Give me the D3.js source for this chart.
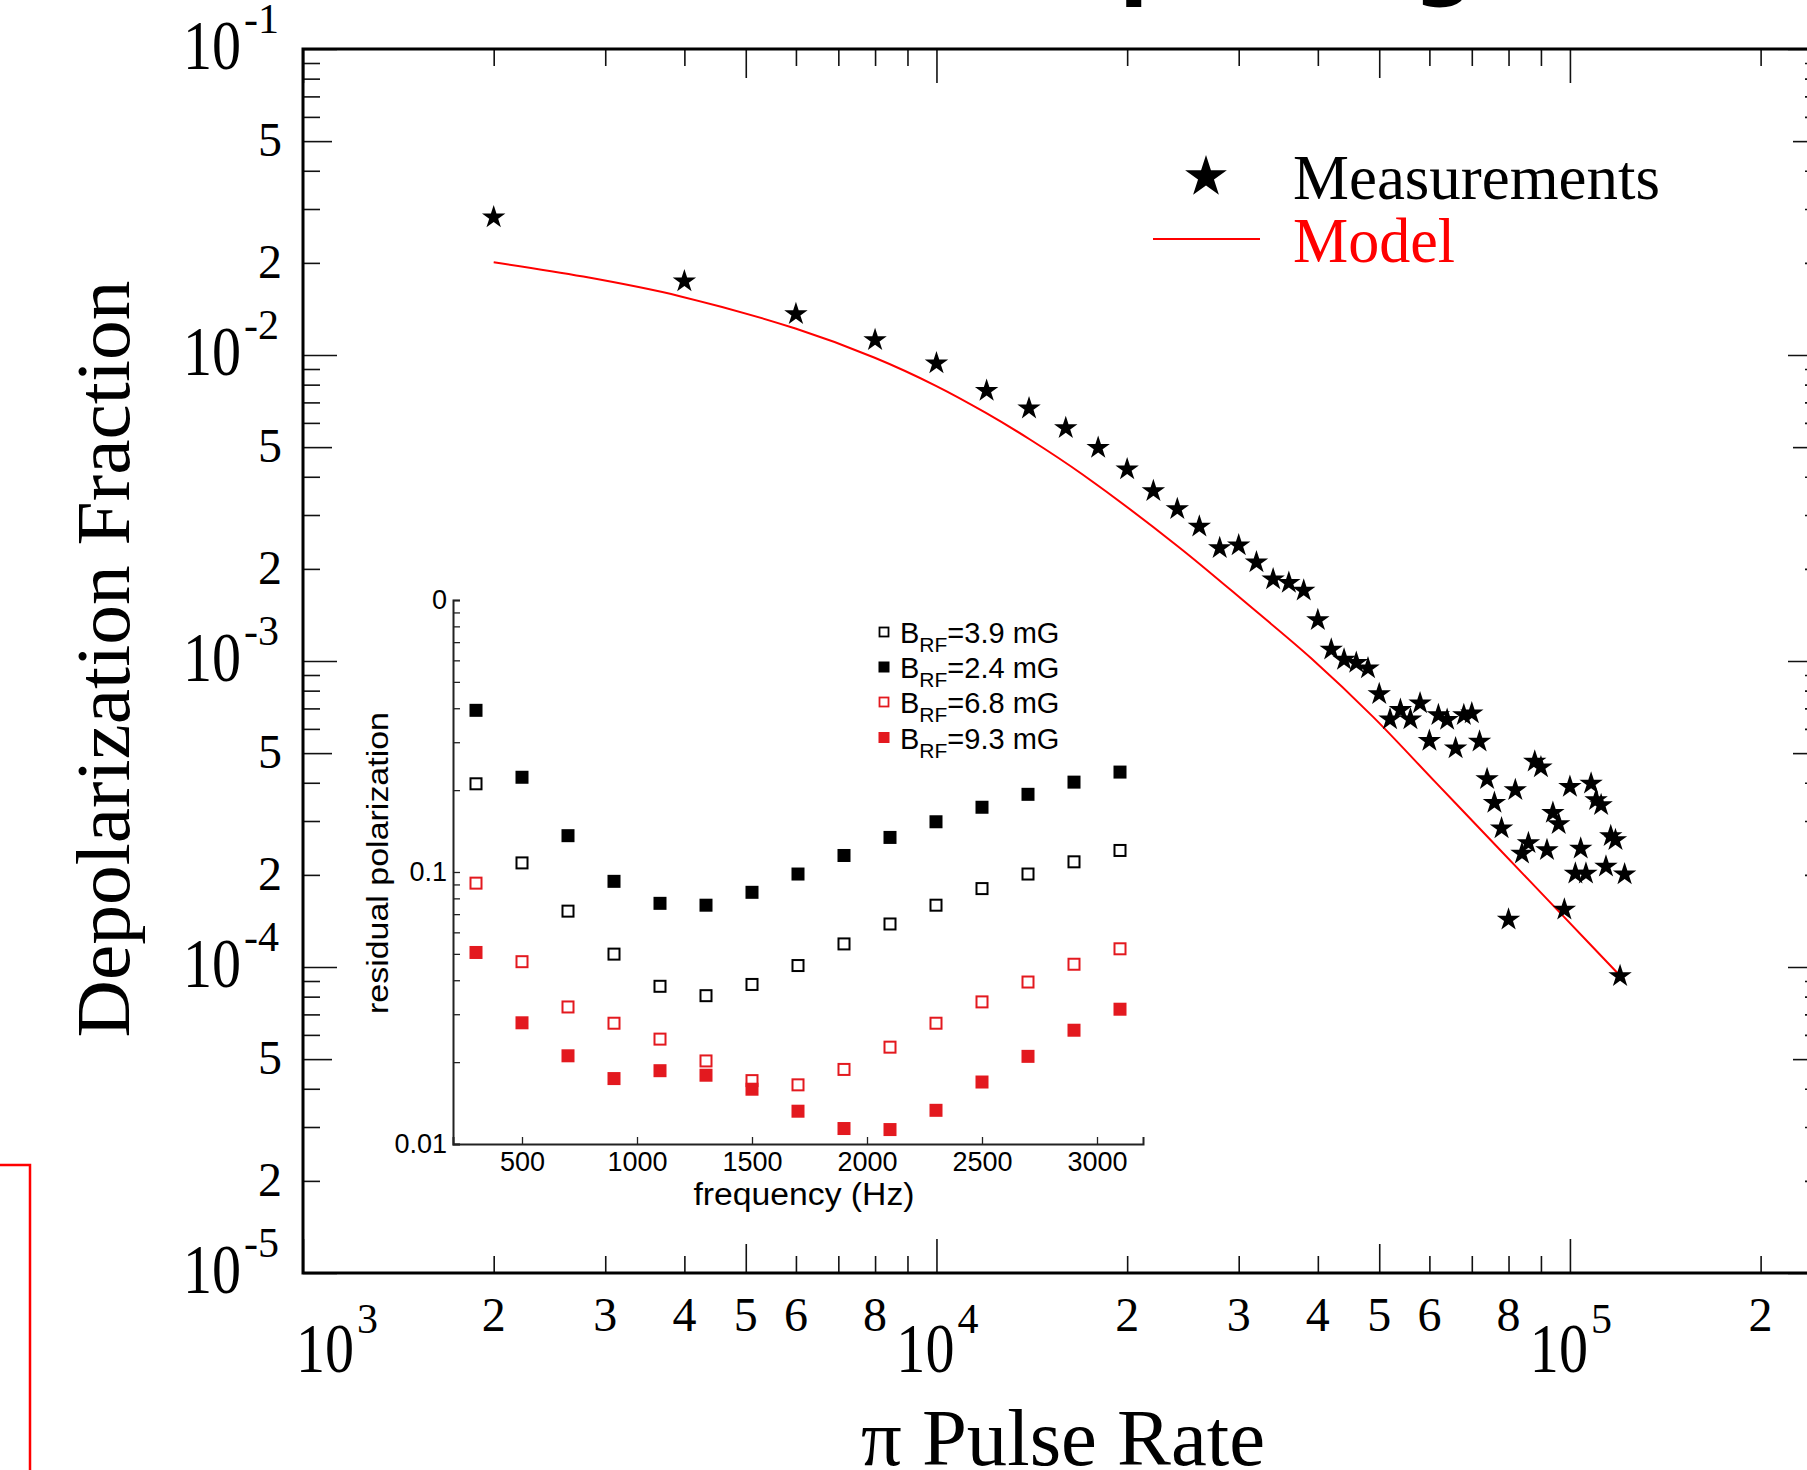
<!DOCTYPE html>
<html>
<head>
<meta charset="utf-8">
<script src="https://cdn.jsdelivr.net/npm/d3@7"></script>
<style>
html,body{margin:0;padding:0;background:#fff;}
svg{display:block;}
</style>
</head>
<body>
<svg id="chart" width="1807" height="1470"></svg>
<script>
// ---------- main chart data ----------
const pulseRate = [2000,4000,6000,8000,10000,12000,14000,16000,18000,20000,
  22000,24000,26000,28000,30000,32000,34000,36000,38000,40000,
  42000,44000,46000,48000,50000,52000,54000,56000,58000,60000,
  62000,64000,66000,68000,70000,72000,74000,76000,78000,80000,
  82000,84000,86000,88000,90000,92000,94000,96000,98000,100000,
  102000,104000,106000,108000,110000,112000,114000,116000,118000,120000,122000];
const depolarization = [0.0282,0.0174,0.0136,0.0112,0.00939,0.00764,0.00669,0.00577,0.00497,0.00423,
  0.00359,0.00314,0.00275,0.00234,0.00239,0.00210,0.00185,0.00180,0.00170,0.00136,
  0.00109,0.00101,0.000987,0.000946,0.000780,0.000645,0.000692,0.000645,0.000727,0.000549,
  0.000666,0.000642,0.000518,0.000666,0.000675,0.000545,0.000411,0.000344,0.000284,0.000143,
  0.000379,0.000235,0.000254,0.000469,0.000449,0.000241,0.000319,0.000293,0.000154,0.000388,
  0.000202,0.000244,0.000202,0.000398,0.000351,0.000338,0.000213,0.000268,0.000260,0.0000935,0.000201];

const modelRate  = [2000,2770,3920,5990,7990,9980,11970,14050,17030,24090,31140,39040,48940,61380,76930,97950,122000];
const modelDepol = [0.02009,0.01804,0.01560,0.01220,0.009797,0.007932,0.006468,0.005294,0.004061,0.002364,0.001520,0.001021,0.0006557,0.0004011,0.0002458,0.0001455,0.0000903];

const xDecades = [1e3,1e4,1e5];
const xMinorLabels = [2,3,4,5,6,8];
const yDecades = [1e-1,1e-2,1e-3,1e-4,1e-5];
const yMinorLabels = [5,2];
const legendLabels = ["Measurements","Model"];
const xTitle = "\u03c0 Pulse Rate";
const yTitle = "Depolarization Fraction";
const titleFragment = "pulsing";

// ---------- inset data ----------
const insetFreq = [300,500,700,900,1100,1300,1500,1700,1900,2100,2300,2500,2700,2900,3100];
const brf39 = [0.211,0.108,0.0718,0.0499,0.0380,0.0351,0.0386,0.0453,0.0544,0.0644,0.0755,0.0869,0.0983,0.109,0.120];
const brf24 = [0.393,0.223,0.136,0.0924,0.0767,0.0755,0.0842,0.0983,0.115,0.134,0.153,0.173,0.193,0.214,0.233];
const brf68 = [0.0910,0.0468,0.0319,0.0278,0.0243,0.0202,0.0171,0.0165,0.0188,0.0227,0.0278,0.0333,0.0394,0.0458,0.0522];
const brf93 = [0.0506,0.0279,0.0211,0.0174,0.0186,0.0179,0.0159,0.0132,0.0114,0.0113,0.0133,0.0169,0.0210,0.0262,0.0313];
const insetSeriesLabels = ["3.9","2.4","6.8","9.3"];
const insetXTicks = [500,1000,1500,2000,2500,3000];
const insetYLabels = {"0.01":"0.01","0.1":"0.1","1":"0"};
const insetXTitle = "frequency (Hz)";
const insetYTitle = "residual polarization";

// ---------- setup ----------
const svg = d3.select("#chart");
const SERIF = "'Liberation Serif','Times New Roman',serif";
const SANS = "'Liberation Sans',Arial,sans-serif";
const RED = "#ff0000";
const IRED = "#e3191f";

const x = d3.scaleLog().domain([1e3, 2.5e5]).range([303, 1822]);
const y = d3.scaleLog().domain([1e-5, 1e-1]).range([1273, 49]);

// title fragment (cut off at the top of the picture)
svg.append("text").attr("x", 1119).attr("y", -11)
  .attr("font-family", "'DejaVu Sans',sans-serif").attr("font-weight", "bold")
  .attr("font-size", 86).attr("fill", "#000").text(titleFragment);

// red bracket at bottom-left
svg.append("path").attr("d", "M0,1165H30V1470").attr("fill", "none")
  .attr("stroke", RED).attr("stroke-width", 2.5);

// ---------- ticks ----------
function logTicks(lo, hi) {
  const out = [];
  for (let e = Math.floor(Math.log10(lo)); e <= Math.ceil(Math.log10(hi)); e++) {
    for (let m = 1; m <= 9; m++) {
      const v = m * Math.pow(10, e);
      if (v >= lo * 0.999 && v <= hi * 1.001) out.push({v, m});
    }
  }
  return out;
}
const xT = logTicks(1e3, 2.5e5), yT = logTicks(1e-5, 1e-1);
const groups = [
  {f: t => t.m === 1, len: 34},
  {f: t => t.m === 5, len: 29},
  {f: t => t.m !== 1 && t.m !== 5, len: 17}
];
function drawAxis(gen, tr) {
  svg.append("g").attr("transform", tr).call(gen)
    .call(s => s.select(".domain").remove())
    .call(s => s.selectAll("text").remove())
    .call(s => s.selectAll("line").attr("stroke", "#111").attr("stroke-width", 1.6));
}
groups.forEach(gp => {
  const xv = xT.filter(gp.f).map(t => t.v);
  const yv = yT.filter(gp.f).map(t => t.v);
  drawAxis(d3.axisBottom(x).tickValues(xv).tickSize(-gp.len), "translate(0,1273)");
  drawAxis(d3.axisTop(x).tickValues(xv).tickSize(-gp.len), "translate(0,49)");
  drawAxis(d3.axisLeft(y).tickValues(yv).tickSize(-gp.len), "translate(303,0)");
  drawAxis(d3.axisRight(y).tickValues(yv).tickSize(-gp.len), "translate(1822,0)");
});

// frame
svg.append("rect").attr("x", 303).attr("y", 49).attr("width", 1822 - 303).attr("height", 1273 - 49)
  .attr("fill", "none").attr("stroke", "#000").attr("stroke-width", 3);

// ---------- tick labels ----------
const lab = svg.append("g").attr("font-family", SERIF).attr("fill", "#000");
yT.filter(t => yMinorLabels.includes(t.m)).forEach(t => {
  lab.append("text").attr("x", 282).attr("y", y(t.v) + 15).attr("text-anchor", "end")
    .attr("font-size", 48).text(t.m);
});
yDecades.forEach(v => {
  const yy = y(v) + 20;
  lab.append("text").attr("transform", `translate(241,${yy}) scale(0.83,1)`)
    .attr("text-anchor", "end").attr("font-size", 70).text("10");
  lab.append("text").attr("x", 244).attr("y", yy - 36).attr("font-size", 42)
    .text("-" + Math.round(-Math.log10(v)));
});
xT.filter(t => xMinorLabels.includes(t.m)).forEach(t => {
  lab.append("text").attr("x", x(t.v)).attr("y", 1331).attr("text-anchor", "middle")
    .attr("font-size", 48).text(t.m);
});
xDecades.forEach((v, i) => {
  const xx = x(v) + (i === 0 ? 33 : 0);
  lab.append("text").attr("transform", `translate(${xx + 18},1372) scale(0.83,1)`)
    .attr("text-anchor", "end").attr("font-size", 70).text("10");
  lab.append("text").attr("x", xx + 21).attr("y", 1333).attr("font-size", 42)
    .text(Math.round(Math.log10(v)));
});

// axis titles
svg.append("text").attr("transform", "translate(129,659) rotate(-90)")
  .attr("text-anchor", "middle").attr("font-family", SERIF).attr("font-size", 77)
  .attr("textLength", 757).attr("lengthAdjust", "spacingAndGlyphs").text(yTitle);
svg.append("text").attr("x", 1063).attr("y", 1465)
  .attr("text-anchor", "middle").attr("font-family", SERIF).attr("font-size", 80)
  .attr("textLength", 404).attr("lengthAdjust", "spacingAndGlyphs").text(xTitle);

// ---------- model & measurements ----------
const modelPts = modelRate.map((r, i) => [r, modelDepol[i]]);
svg.append("path").datum(modelPts)
  .attr("d", d3.line().x(d => x(d[0])).y(d => y(d[1])).curve(d3.curveCatmullRom.alpha(0.5)))
  .attr("fill", "none").attr("stroke", RED).attr("stroke-width", 2);

const star = d3.symbol().type(d3.symbolStar);
svg.append("g").selectAll("path").data(pulseRate.map((r, i) => [r, depolarization[i]]))
  .join("path")
  .attr("transform", d => `translate(${x(d[0])},${y(d[1])})`)
  .attr("d", star.size(170)())
  .attr("fill", "#000");

// legend
svg.append("path").attr("transform", "translate(1206,177)")
  .attr("d", d3.symbol().type(d3.symbolStar).size(540)()).attr("fill", "#000");
svg.append("text").attr("x", 1293).attr("y", 199).attr("font-family", SERIF)
  .attr("font-size", 64).attr("textLength", 367).attr("lengthAdjust", "spacingAndGlyphs")
  .text(legendLabels[0]);
svg.append("line").attr("x1", 1153).attr("x2", 1260).attr("y1", 239).attr("y2", 239)
  .attr("stroke", RED).attr("stroke-width", 2);
svg.append("text").attr("x", 1293).attr("y", 262).attr("font-family", SERIF)
  .attr("font-size", 64).attr("fill", RED).attr("textLength", 162)
  .attr("lengthAdjust", "spacingAndGlyphs").text(legendLabels[1]);

// ---------- inset ----------
const ix = d3.scaleLinear().domain([200, 3200]).range([453, 1143]);
const iy = d3.scaleLog().domain([0.01, 1]).range([1144, 600]);
const inset = svg.append("g").attr("font-family", SANS);

const iyTicks = logTicks(0.01, 1).map(t => t.v);
inset.append("g").attr("transform", "translate(453,0)")
  .call(d3.axisLeft(iy).tickValues(iyTicks).tickSize(-7).tickPadding(6)
    .tickFormat(v => insetYLabels[String(+v.toPrecision(3))] || ""))
  .call(s => s.select(".domain").attr("stroke", "#222").attr("stroke-width", 2))
  .call(s => s.selectAll("line").attr("stroke", "#222").attr("stroke-width", 1.3))
  .call(s => s.selectAll("text").attr("font-size", 27).attr("font-family", SANS).attr("fill", "#000"));
inset.append("g").attr("transform", "translate(0,1144)")
  .call(d3.axisBottom(ix).tickValues(insetXTicks).tickSize(-7).tickPadding(8).tickFormat(d3.format("d")))
  .call(s => s.select(".domain").attr("stroke", "#222").attr("stroke-width", 2))
  .call(s => s.selectAll("line").attr("stroke", "#222").attr("stroke-width", 1.3))
  .call(s => s.selectAll("text").attr("font-size", 27).attr("font-family", SANS).attr("fill", "#000"));

inset.append("text").attr("x", 804).attr("y", 1205).attr("text-anchor", "middle")
  .attr("font-size", 31).attr("textLength", 221).attr("lengthAdjust", "spacingAndGlyphs")
  .text(insetXTitle);
inset.append("text").attr("transform", "translate(388,863) rotate(-90)")
  .attr("text-anchor", "middle").attr("font-size", 30).attr("textLength", 302)
  .attr("lengthAdjust", "spacingAndGlyphs").text(insetYTitle);

const series = [
  {vals: brf39, color: "#000", filled: false},
  {vals: brf24, color: "#000", filled: true},
  {vals: brf68, color: IRED, filled: false},
  {vals: brf93, color: IRED, filled: true}
];
function drawSquare(g, cx, cy, s) {
  const sz = s.filled ? 13 : 11;
  g.append("rect").attr("x", cx - sz / 2).attr("y", cy - sz / 2).attr("width", sz).attr("height", sz)
    .attr("fill", s.filled ? s.color : "#fff").attr("stroke", s.color)
    .attr("stroke-width", s.filled ? 0 : 2);
}
series.forEach(s => {
  const g = inset.append("g");
  insetFreq.forEach((f, i) => drawSquare(g, ix(f), iy(s.vals[i]), s));
});

// inset legend
const legRowY = [632, 667, 702, 737.5];
series.forEach((s, i) => {
  const sz = s.filled ? 11 : 9;
  inset.append("rect").attr("x", 884 - sz / 2).attr("y", legRowY[i] - sz / 2)
    .attr("width", sz).attr("height", sz)
    .attr("fill", s.filled ? s.color : "#fff").attr("stroke", s.color)
    .attr("stroke-width", s.filled ? 0 : 1.8);
  const t = inset.append("text").attr("x", 900).attr("y", legRowY[i] + 11).attr("fill", "#000");
  t.append("tspan").attr("font-size", 29).text("B");
  t.append("tspan").attr("font-size", 21).attr("dy", 9).text("RF");
  t.append("tspan").attr("font-size", 29).attr("dy", -9).text("=" + insetSeriesLabels[i] + " mG");
});
</script>
</body>
</html>
